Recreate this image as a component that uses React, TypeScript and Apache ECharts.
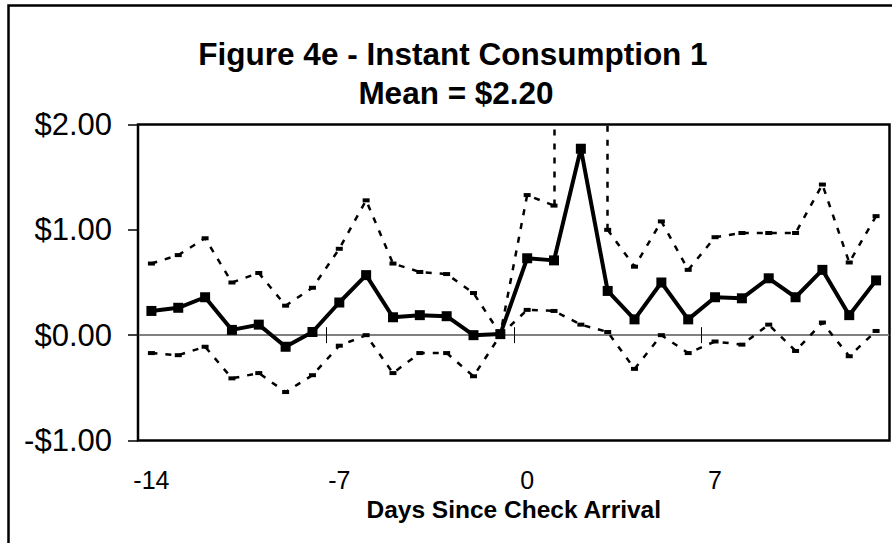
import React, { useEffect, useRef } from 'react';
import * as echarts from 'echarts';

const days = ['-14', '-13', '-12', '-11', '-10', '-9', '-8', '-7', '-6', '-5', '-4', '-3', '-2', '-1', '0', '1', '2', '3', '4', '5', '6', '7', '8', '9', '10', '11', '12', '13'];
const meanValues = [0.23, 0.26, 0.36, 0.05, 0.10, -0.11, 0.03, 0.31, 0.57, 0.17, 0.19, 0.18, 0.0, 0.01, 0.73, 0.71, 1.77, 0.42, 0.15, 0.50, 0.15, 0.36, 0.35, 0.54, 0.36, 0.62, 0.19, 0.52];
// upper confidence band; day 2 lies above the plotted range (off chart)
const upperBand = [0.68, 0.76, 0.92, 0.50, 0.59, 0.28, 0.45, 0.82, 1.28, 0.68, 0.60, 0.58, 0.40, 0.01, 1.33, 1.23, null, 1.00, 0.65, 1.08, 0.62, 0.93, 0.97, 0.97, 0.97, 1.43, 0.69, 1.13];
const lowerBand = [-0.17, -0.19, -0.11, -0.41, -0.36, -0.54, -0.38, -0.10, 0.0, -0.36, -0.17, -0.17, -0.39, 0.0, 0.24, 0.23, 0.10, 0.03, -0.32, 0.0, -0.17, -0.06, -0.09, 0.10, -0.15, 0.12, -0.20, 0.04];
const yMin = -1;
const yMax = 2;
const yStep = 1;
const titleLines = ['Figure 4e - Instant Consumption 1', 'Mean = $2.20'];
const xAxisTitle = 'Days Since Check Arrival';
const offChartDay = '2';

export default function App() {
  const ref = useRef<HTMLDivElement>(null);
  useEffect(() => {
    document.body.style.margin = '0';
    const chart = echarts.init(ref.current as HTMLDivElement, null, { renderer: 'svg' });
    const FONT = '"Liberation Sans", Arial, sans-serif';
    const dashLine = { color: '#000', width: 2.5, type: [6, 8] as number[] };
    const offIdx = days.indexOf(offChartDay);
    const before = days[offIdx - 1];
    const after = days[offIdx + 1];
    const zeroTicks = { show: true, interval: 6, length: 8, lineStyle: { color: '#000', width: 1 } };
    chart.setOption({
      animation: false,
      grid: {
        left: 138,
        top: 124.5,
        width: 751.5,
        height: 316,
        show: true,
        borderColor: '#000',
        borderWidth: 2.5,
        backgroundColor: 'transparent',
      },
      graphic: [
        {
          type: 'rect',
          shape: { x: 8.5, y: 5.5, width: 1000, height: 1000 },
          style: { fill: 'none', stroke: '#000', lineWidth: 2.5 },
          silent: true,
        },
        {
          type: 'text',
          x: 453,
          y: 54,
          style: { text: titleLines[0], font: `bold 31.5px ${FONT}`, fill: '#000', textAlign: 'center', textVerticalAlign: 'middle' },
        },
        {
          type: 'text',
          x: 456,
          y: 93,
          style: { text: titleLines[1], font: `bold 31.5px ${FONT}`, fill: '#000', textAlign: 'center', textVerticalAlign: 'middle' },
        },
      ],
      xAxis: [
        {
          type: 'category',
          data: days,
          position: 'bottom',
          boundaryGap: true,
          axisLine: { show: false, onZero: false },
          axisTick: { show: false },
          splitLine: { show: false },
          axisLabel: { interval: 6, margin: 27, fontSize: 25, color: '#000', fontFamily: FONT },
          name: xAxisTitle,
          nameLocation: 'middle',
          nameGap: 52,
          nameTextStyle: { fontSize: 24.5, fontWeight: 'bold', color: '#000', fontFamily: FONT },
        },
        {
          type: 'category',
          data: days,
          position: 'bottom',
          boundaryGap: true,
          axisLine: { show: true, onZero: true, onZeroAxisIndex: 0, lineStyle: { color: '#808080', width: 2 } },
          axisTick: zeroTicks,
          axisLabel: { show: false },
          splitLine: { show: false },
        },
        {
          type: 'category',
          data: days,
          position: 'top',
          boundaryGap: true,
          axisLine: { show: false, onZero: true, onZeroAxisIndex: 1 },
          axisTick: zeroTicks,
          axisLabel: { show: false },
          splitLine: { show: false },
        },
      ],
      yAxis: [
        {
          type: 'value',
          min: yMin,
          max: yMax,
          interval: yStep,
          axisLine: { show: false },
          axisTick: { show: true, length: 10, lineStyle: { color: '#000', width: 1.5 } },
          splitLine: { show: false },
          axisLabel: {
            margin: 26,
            fontSize: 31,
            color: '#000',
            fontFamily: FONT,
            formatter: (v: number) => (v < 0 ? '-$' + Math.abs(v).toFixed(2) : '$' + v.toFixed(2)),
          },
        },
        {
          type: 'value',
          position: 'right',
          min: yMin,
          max: yMax,
          interval: yStep,
          show: true,
          axisLine: { show: false },
          axisTick: { show: false },
          axisLabel: { show: false },
          splitLine: { show: false },
        },
      ],
      series: [
        {
          name: 'Upper',
          type: 'line',
          data: upperBand,
          symbol: 'rect',
          symbolSize: [7, 4],
          showSymbol: true,
          itemStyle: { color: '#000' },
          lineStyle: dashLine,
          connectNulls: false,
          z: 2,
          markLine: {
            silent: true,
            symbol: 'none',
            label: { show: false },
            lineStyle: dashLine,
            data: [
              [{ coord: [before, upperBand[offIdx - 1]] }, { coord: [before, yMax] }],
              [{ coord: [after, upperBand[offIdx + 1]] }, { coord: [after, yMax] }],
            ],
          },
        },
        {
          name: 'Lower',
          type: 'line',
          data: lowerBand,
          symbol: 'rect',
          symbolSize: [7, 4],
          showSymbol: true,
          itemStyle: { color: '#000' },
          lineStyle: dashLine,
          z: 2,
        },
        {
          name: 'Mean',
          type: 'line',
          data: meanValues,
          symbol: 'rect',
          symbolSize: 10,
          showSymbol: true,
          itemStyle: { color: '#000' },
          lineStyle: { color: '#000', width: 4 },
          z: 3,
        },
      ],
    });
    return () => chart.dispose();
  }, []);
  return <div ref={ref} style={{ width: 892, height: 543 }} />;
}
